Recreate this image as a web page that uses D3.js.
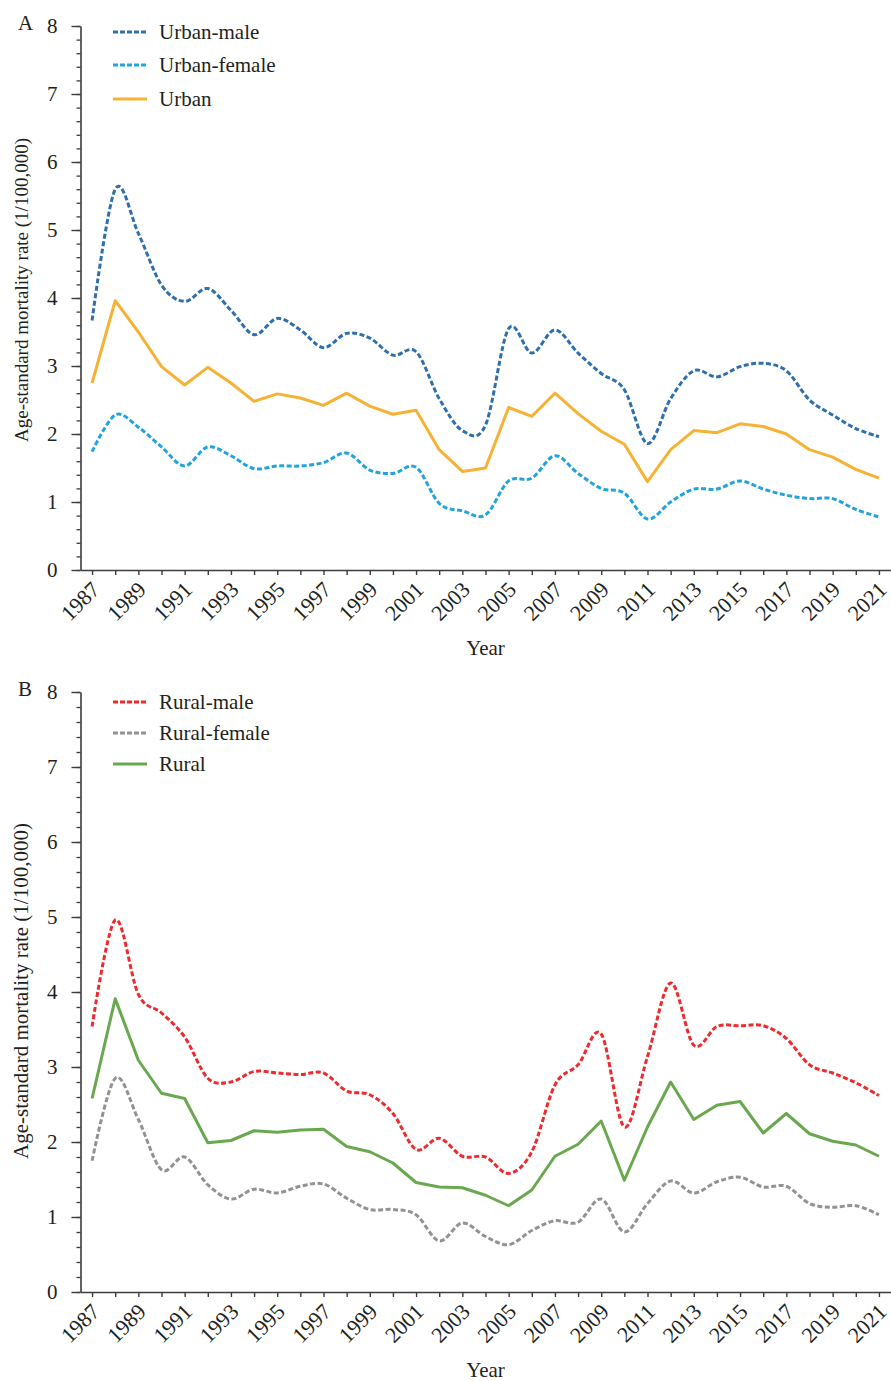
<!DOCTYPE html>
<html>
<head>
<meta charset="utf-8">
<script src="https://cdn.jsdelivr.net/npm/d3@7/dist/d3.min.js"></script>
<style>
  html, body { margin: 0; padding: 0; background: #fff; }
  svg { display: block; }
  text { font-family: "Liberation Serif", "Times New Roman", serif; fill: #231f20; }
</style>
</head>
<body>
<svg id="chart" width="891" height="1381"></svg>
<script>
const years = d3.range(1987, 2022);
const yTicks = [0, 1, 2, 3, 4, 5, 6, 7, 8];
const xLabelYears = d3.range(1987, 2022, 2);

const urbanMale = [3.67, 5.60, 4.95, 4.19, 3.95, 4.14, 3.82, 3.46, 3.70, 3.53, 3.27, 3.48, 3.41, 3.16, 3.21, 2.52, 2.05, 2.13, 3.55, 3.19, 3.53, 3.19, 2.89, 2.65, 1.86, 2.52, 2.93, 2.84, 2.99, 3.04, 2.93, 2.50, 2.28, 2.08, 1.96];
const urbanFemale = [1.74, 2.28, 2.10, 1.81, 1.53, 1.81, 1.68, 1.49, 1.53, 1.53, 1.58, 1.72, 1.47, 1.42, 1.51, 0.98, 0.87, 0.81, 1.31, 1.35, 1.68, 1.42, 1.20, 1.13, 0.75, 1.00, 1.19, 1.19, 1.31, 1.19, 1.10, 1.05, 1.05, 0.89, 0.78];
const urban = [2.75, 3.96, 3.50, 2.99, 2.72, 2.98, 2.75, 2.48, 2.59, 2.53, 2.42, 2.60, 2.41, 2.29, 2.35, 1.77, 1.45, 1.50, 2.39, 2.26, 2.60, 2.30, 2.04, 1.85, 1.30, 1.77, 2.05, 2.02, 2.15, 2.11, 2.00, 1.77, 1.66, 1.48, 1.35];

const ruralMale = [3.54, 4.96, 3.97, 3.72, 3.40, 2.85, 2.80, 2.94, 2.92, 2.90, 2.92, 2.68, 2.63, 2.38, 1.90, 2.05, 1.81, 1.80, 1.58, 1.87, 2.76, 3.03, 3.44, 2.20, 3.14, 4.12, 3.29, 3.54, 3.55, 3.55, 3.38, 3.03, 2.92, 2.79, 2.62];
const ruralFemale = [1.75, 2.85, 2.30, 1.63, 1.80, 1.43, 1.24, 1.37, 1.32, 1.41, 1.44, 1.25, 1.10, 1.10, 1.03, 0.68, 0.92, 0.74, 0.63, 0.82, 0.95, 0.93, 1.24, 0.80, 1.18, 1.48, 1.32, 1.47, 1.53, 1.40, 1.41, 1.18, 1.13, 1.15, 1.03];
const rural = [2.58, 3.91, 3.09, 2.65, 2.58, 1.99, 2.02, 2.15, 2.13, 2.16, 2.17, 1.94, 1.87, 1.72, 1.46, 1.40, 1.39, 1.29, 1.15, 1.36, 1.81, 1.97, 2.28, 1.49, 2.20, 2.80, 2.30, 2.49, 2.54, 2.12, 2.38, 2.11, 2.01, 1.96, 1.81];

const panels = [
  { letter: "A", top: 26, bottom: 570, titleSize: 19, titleCenter: 290,
    legendRows: [32, 65, 99],
    series: [
      { name: "Urban-male", values: urbanMale, color: "#2e6fae", dashed: true },
      { name: "Urban-female", values: urbanFemale, color: "#21a4dd", dashed: true },
      { name: "Urban", values: urban, color: "#f5b235", dashed: false }
    ] },
  { letter: "B", top: 692, bottom: 1292, titleSize: 21, titleCenter: 991,
    legendRows: [702, 733, 764],
    series: [
      { name: "Rural-male", values: ruralMale, color: "#ee2a2e", dashed: true },
      { name: "Rural-female", values: ruralFemale, color: "#929292", dashed: true },
      { name: "Rural", values: rural, color: "#6aa84f", dashed: false }
    ] }
];

const svg = d3.select("#chart");
const left = 80.5, right = 890.5;
const x = d3.scaleLinear().domain([1986.5, 2021.5]).range([left, right]);
const axisColor = "#3c3c3c";

panels.forEach(p => {
  const y = d3.scaleLinear().domain([0, 8]).range([p.bottom, p.top]);
  const g = svg.append("g");

  // minor y ticks
  const minor = g.append("g").attr("transform", `translate(${left},0)`)
    .call(d3.axisLeft(y).tickValues(d3.range(0, 8.001, 0.2)).tickSize(4).tickSizeOuter(0).tickFormat(""));
  minor.select(".domain").remove();
  minor.selectAll("line").attr("stroke", axisColor).attr("stroke-width", 1.3);

  // major y ticks
  const major = g.append("g").attr("transform", `translate(${left},0)`)
    .call(d3.axisLeft(y).tickValues(yTicks).tickSize(9).tickSizeOuter(0).tickPadding(14).tickFormat(d3.format("d")));
  major.select(".domain").attr("stroke", axisColor).attr("stroke-width", 1.6);
  major.selectAll("line").attr("stroke", axisColor).attr("stroke-width", 1.4);
  major.selectAll("text").style("font-size", "21px").attr("fill", "#231f20");

  // x axis
  const xa = g.append("g").attr("transform", `translate(0,${p.bottom})`)
    .call(d3.axisBottom(x).tickValues(years).tickSize(5).tickSizeOuter(0).tickFormat(""));
  xa.select(".domain").attr("stroke", axisColor).attr("stroke-width", 1.6);
  xa.selectAll("line").attr("stroke", axisColor).attr("stroke-width", 1.4);

  g.append("g").selectAll("text").data(xLabelYears).join("text")
    .attr("transform", d => `translate(${x(d) + 9},${p.bottom + 21}) rotate(-45)`)
    .attr("text-anchor", "end")
    .style("font-size", "22px")
    .text(d => d);

  // axis titles
  g.append("text")
    .attr("x", (left + right) / 2).attr("y", p.bottom + 85)
    .attr("text-anchor", "middle").style("font-size", "21px").text("Year");
  g.append("text")
    .attr("transform", `translate(28,${p.titleCenter}) rotate(-90)`)
    .attr("text-anchor", "middle").style("font-size", p.titleSize + "px")
    .text("Age-standard mortality rate (1/100,000)");

  // panel letter
  g.append("text").attr("x", 18).attr("y", p.top + 4)
    .style("font-size", "21px").text(p.letter);

  // lines
  p.series.forEach(s => {
    const line = d3.line()
      .x((d, i) => x(years[i]))
      .y(d => y(d))
      .curve(s.dashed ? d3.curveCatmullRom.alpha(0) : d3.curveLinear);
    g.append("path").datum(s.values)
      .attr("d", line)
      .attr("fill", "none")
      .attr("stroke", s.color)
      .attr("stroke-width", 3)
      .attr("stroke-linejoin", "round")
      .attr("stroke-dasharray", s.dashed ? "5,2.5" : null);
  });

  // legend
  const lg = g.append("g");
  p.series.forEach((s, i) => {
    const ry = p.legendRows[i];
    lg.append("line").attr("x1", 113).attr("x2", 147).attr("y1", ry).attr("y2", ry)
      .attr("stroke", s.color).attr("stroke-width", 3)
      .attr("stroke-dasharray", s.dashed ? "5,2" : null);
    lg.append("text").attr("x", 159).attr("y", ry).attr("dy", "0.33em")
      .style("font-size", "21px").text(s.name);
  });
});
</script>
</body>
</html>
